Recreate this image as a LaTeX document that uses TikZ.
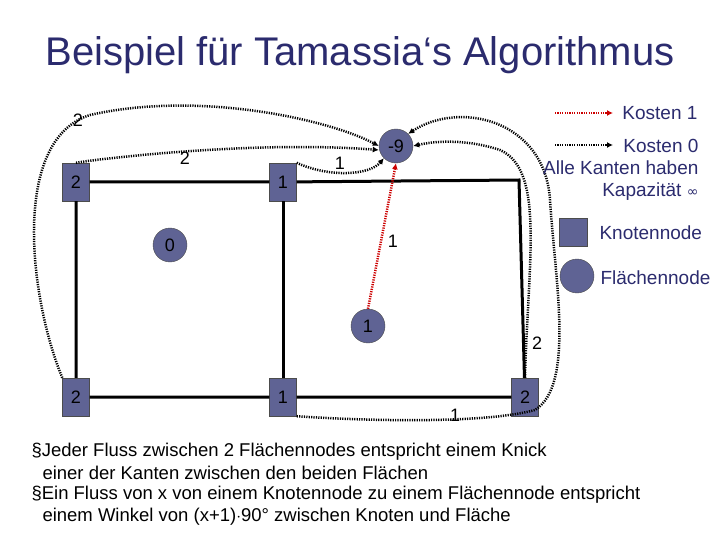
\documentclass[tikz,border=0pt]{standalone}
\usepackage{fontspec}
\setmainfont{Liberation Sans}
\newfontfamily\djvfont{DejaVu Sans}
\usetikzlibrary{arrows.meta}
\definecolor{navy}{HTML}{2B2B6E}
\definecolor{nodefill}{HTML}{5F6394}
\begin{document}
\begin{tikzpicture}[x=1pt,y=-1pt,
  knot/.style={draw=black!70,fill=nodefill,minimum width=27pt,minimum height=38pt,inner sep=0pt,font=\fontsize{18}{18}\selectfont},
  face/.style={draw=black!70,fill=nodefill,circle,minimum size=34pt,inner sep=0pt,font=\fontsize{18}{18}\selectfont},
  edge/.style={line width=3pt},
  flow/.style={line width=2.5pt,dash pattern=on 1.2pt off 1.2pt,-{Latex[length=6pt,width=6pt]}},
  redflow/.style={flow,red!80!black},
  lbl/.style={font=\fontsize{18}{18}\selectfont},
  leg/.style={font=\fontsize{19}{22}\selectfont,text=navy},
  txt/.style={font=\fontsize{18.5}{22}\selectfont,anchor=west}]
\useasboundingbox (0,0) rectangle (720,540);
\node[font=\fontsize{40}{40}\selectfont,text=navy] (title) at (360,55) {Beispiel für Tamassia‘s Algorithmus};
% vertices
\coordinate (tr) at (519,180);
\node[knot] (tl) at (76,182) {2};
\node[knot] (tm) at (283,182) {1};
\node[knot] (bl) at (76,397) {2};
\node[knot] (bm) at (283,397) {1};
\node[knot] (br) at (525,397) {2};
\draw[edge] (tl) -- (tm) -- (tr) -- (br) -- (bm) -- (bl) -- (tl);
\draw[edge] (tm) -- (bm);
% faces
\node[face] (f0) at (170,245) {0};
\node[face] (f1) at (368,326) {1};
\node[face] (fo) at (396,146) {-9};
% flows
\draw[redflow] (f1.north) -- (fo.south);
\node[lbl] (lr) at (393,241) {1};
\draw[flow] (bl.north west) .. controls (30,300) and (10,140) .. (90,115) .. controls (200,90) and (330,120) .. (fo.west);
\node[lbl] (l1) at (78,120) {2};
\draw[flow] (tl.north) .. controls (90,160) and (250,140) .. (fo.west |- 0,150);
\node[lbl] (l2) at (185,158) {2};
\draw[flow] (tm.north east) .. controls (330,178) and (370,175) .. (fo.south west);
\node[lbl] (l3) at (340,163) {1};
\draw[flow] (br.north) .. controls (528,260) and (545,170) .. (500,150) .. controls (470,140) and (440,140) .. (fo.east);
\node[lbl] (l4) at (537,343) {2};
\draw[flow] (bm.south east) .. controls (350,420) and (480,425) .. (535,410) .. controls (575,385) and (555,280) .. (550,200) .. controls (545,120) and (460,100) .. (fo.north east);
\node[lbl] (l5) at (455,415) {1};
% legend
\coordinate (ra) at (555,113); \coordinate (rb) at (613,113);
\draw[redflow] (ra) -- (rb);
\node[leg,anchor=east] (k1) at (701,113) {Kosten 1};
\coordinate (ba) at (555,145); \coordinate (bb) at (613,145);
\draw[flow] (ba) -- (bb);
\node[leg,anchor=east] (k0) at (702,146) {Kosten 0};
\node[leg,anchor=east,align=right] (kap) at (702,181) {Alle Kanten haben\\Kapazität {\djvfont\fontsize{14}{14}\selectfont ∞}};
\node[leg,anchor=north west,text width=260pt] (kap2) at (1000,1000) {};
\node[knot,minimum width=28pt,minimum height=28pt] (lk) at (573,232) {};
\node[leg,anchor=west] (lkt) at (596,233) {Knotennode};
\node[face,minimum size=34pt] (lf) at (577,276) {};
\node[leg,anchor=west] (lft) at (597,278) {Flächennode};
% text
\node[txt] (t1) at (28,452) {§Jeder Fluss zwischen 2 Flächennodes entspricht einem Knick};
\node[txt] (t2) at (28,473) {\hspace{11pt}einer der Kanten zwischen den beiden Flächen};
\node[txt] (t3) at (28,495) {§Ein Fluss von x von einem Knotennode zu einem Flächennode entspricht};
\node[txt] (t4) at (28,517) {\hspace{11pt}einem Winkel von (x+1)$\cdot$90° zwischen Knoten und Fläche};
\end{tikzpicture}
\end{document}
